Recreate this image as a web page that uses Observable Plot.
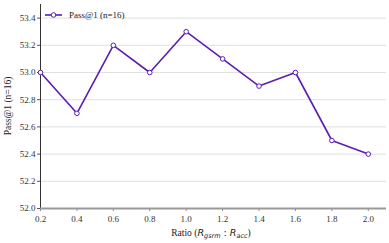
<!DOCTYPE html>
<html>
<head>
<meta charset="utf-8">
<script src="https://cdn.jsdelivr.net/npm/d3@7"></script>
<script src="https://cdn.jsdelivr.net/npm/@observablehq/plot@0.6"></script>
<style>
body { margin: 0; background: #fff; }
</style>
</head>
<body>
<div id="chart"></div>
<script>
const ratios = [0.2, 0.4, 0.6, 0.8, 1.0, 1.2, 1.4, 1.6, 1.8, 2.0];
const pass1 = [53.0, 52.7, 53.2, 53.0, 53.3, 53.1, 52.9, 53.0, 52.5, 52.4];
const xTicks = [0.2, 0.4, 0.6, 0.8, 1.0, 1.2, 1.4, 1.6, 1.8, 2.0];
const yTicks = [52.0, 52.2, 52.4, 52.6, 52.8, 53.0, 53.2, 53.4];
const seriesName = "Pass@1 (n=16)";
const yLabel = "Pass@1 (n=16)";

const data = ratios.map((r, i) => ({ratio: r, value: pass1[i]}));
const color = "#5b1db3";
const serif = "Liberation Serif, serif";

const chart = Plot.plot({
  width: 389,
  height: 243,
  marginLeft: 40,
  marginRight: 3,
  marginTop: 4,
  marginBottom: 35,
  style: {fontSize: "9px", color: "#333", background: "#fff"},
  x: {domain: [0.2, 2.1], ticks: xTicks, tickFormat: d => d.toFixed(1), label: null},
  y: {domain: [52.0, 53.5], ticks: yTicks, tickFormat: d => d.toFixed(1), label: null},
  marks: [
    Plot.ruleY(yTicks.slice(1), {stroke: "#e0e0e0", strokeWidth: 1}),
    Plot.axisY({ticks: yTicks, tickFormat: d => d.toFixed(1), tickSize: 3, tickPadding: 2, label: null, stroke: "#555"}),
    Plot.axisX({ticks: xTicks, tickFormat: d => d.toFixed(1), tickSize: 3, tickPadding: 4, label: null, stroke: "#888"}),
    Plot.ruleX([0.2], {stroke: "#333", strokeWidth: 1}),
    Plot.ruleY([52.0], {stroke: "#999", strokeWidth: 2}),
    Plot.line(data, {x: "ratio", y: "value", stroke: color, strokeWidth: 1.6}),
    Plot.dot(data, {x: "ratio", y: "value", r: 2.3, stroke: color, fill: "#fff", strokeWidth: 1})
  ]
});

const svg = d3.select(chart);
svg.attr("font-family", serif).style("font-family", serif);
svg.selectAll("text").attr("font-family", serif).style("font-family", serif);

// x-axis title with math subscripts
const mathFont = "DejaVu Sans, sans-serif";
const xt = svg.append("text")
  .attr("x", 211).attr("y", 236)
  .attr("text-anchor", "middle")
  .attr("font-size", 9.5)
  .style("font-family", serif)
  .attr("fill", "#222");
xt.append("tspan").text("Ratio (");
xt.append("tspan").style("font-family", mathFont).attr("font-style", "italic").text("R");
xt.append("tspan").style("font-family", mathFont).attr("font-style", "italic").attr("font-size", 6.5).attr("dy", 2).text("gsrm");
xt.append("tspan").style("font-family", mathFont).attr("dy", -2).text(" : ");
xt.append("tspan").style("font-family", mathFont).attr("font-style", "italic").text("R");
xt.append("tspan").style("font-family", mathFont).attr("font-style", "italic").attr("font-size", 6.5).attr("dy", 2).text("acc");
xt.append("tspan").attr("dy", -2).text(")");

// y-axis title
svg.append("text")
  .attr("transform", "translate(11,106) rotate(-90)")
  .attr("text-anchor", "middle")
  .attr("font-size", 9.5)
  .style("font-family", serif)
  .attr("fill", "#222")
  .text(yLabel);

// legend
const lg = svg.append("g");
lg.append("line").attr("x1", 45).attr("x2", 62).attr("y1", 15).attr("y2", 15)
  .attr("stroke", color).attr("stroke-width", 1.6);
lg.append("circle").attr("cx", 53.5).attr("cy", 15).attr("r", 2.3)
  .attr("stroke", color).attr("fill", "#fff").attr("stroke-width", 1);
lg.append("text").attr("x", 69).attr("y", 18).attr("font-size", 9)
  .attr("text-anchor", "start")
  .style("font-family", serif).attr("fill", "#222").text(seriesName);

document.getElementById("chart").appendChild(chart);
</script>
</body>
</html>
